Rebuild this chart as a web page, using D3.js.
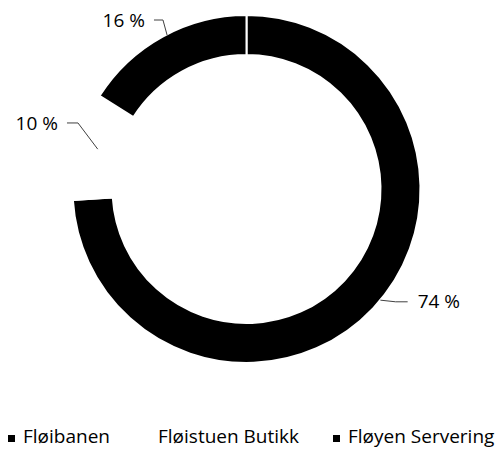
<!DOCTYPE html>
<html>
<head>
<meta charset="utf-8">
<script src="https://cdn.jsdelivr.net/npm/d3@7"></script>
<style>
  body { margin: 0; background: #fff; }
  text { font-family: "Open Sans", "Noto Sans", sans-serif; fill: #000; }
</style>
</head>
<body>
<div id="chart"></div>
<script>
const width = 498;
const height = 450;

// data
var categories = ["Fløibanen", "Fløistuen Butikk", "Fløyen Servering"];
var values = [74, 10, 16];
var sliceColors = ["#000000", "#ffffff", "#000000"];

const cx = 246.5, cy = 189;
const outerR = 174, innerR = 134;
const fontSize = "19px";

// leader placement per slice, angles in degrees clockwise from top
var labelLayout = [
    {anchorA: 129.7, anchorR: 174, elbowA: 127.1, elbowR: 187, leg: 12},
    {anchorA: 285, anchorR: 154, elbowA: 291.4, elbowR: 181, leg: -11},
    {anchorA: 332.7, anchorR: 173, elbowA: 333.7, elbowR: 188.5, leg: -9}
];

var svg = d3.select("#chart").append("svg")
    .attr("width", width)
    .attr("height", height);

var g = svg.append("g")
    .attr("transform", "translate(" + cx + "," + cy + ")");

var pie = d3.pie().sort(null).value(function (d) { return d; });
var arc = d3.arc().innerRadius(innerR).outerRadius(outerR);
var arcs = pie(values);

g.selectAll(".slice")
    .data(arcs)
    .enter().append("path")
    .attr("class", "slice")
    .attr("d", arc)
    .attr("fill", function (d, i) { return sliceColors[i]; })
    .attr("stroke", "#fff")
    .attr("stroke-width", 2);

function polar(r, deg) {
    var a = deg * Math.PI / 180;
    return [r * Math.sin(a), -r * Math.cos(a)];
}

arcs.forEach(function (d, i) {
    var lay = labelLayout[i];
    var p0 = polar(lay.anchorR, lay.anchorA);
    var p1 = polar(lay.elbowR, lay.elbowA);
    var p2 = [p1[0] + lay.leg, p1[1]];
    g.append("polyline")
        .attr("points", [p0, p1, p2].map(function (p) { return p.join(","); }).join(" "))
        .attr("fill", "none")
        .attr("stroke", "#404040")
        .attr("stroke-width", 1);
    var right = lay.leg > 0;
    g.append("text")
        .attr("x", p2[0] + (right ? 10 : -9))
        .attr("y", p2[1])
        .attr("dy", "0.35em")
        .attr("text-anchor", right ? "start" : "end")
        .style("font-size", fontSize)
        .text(values[i] + " %");
});

// legend
var legendX = [8, 143, 333];
var legend = svg.append("g").attr("class", "legend");
categories.forEach(function (c, i) {
    var item = legend.append("g")
        .attr("transform", "translate(" + legendX[i] + ",443)");
    item.append("rect")
        .attr("x", 0).attr("y", -8)
        .attr("width", 7).attr("height", 7)
        .attr("fill", sliceColors[i]);
    item.append("text")
        .attr("x", 15)
        .attr("y", 0)
        .style("font-size", fontSize)
        .text(c);
});
</script>
</body>
</html>
